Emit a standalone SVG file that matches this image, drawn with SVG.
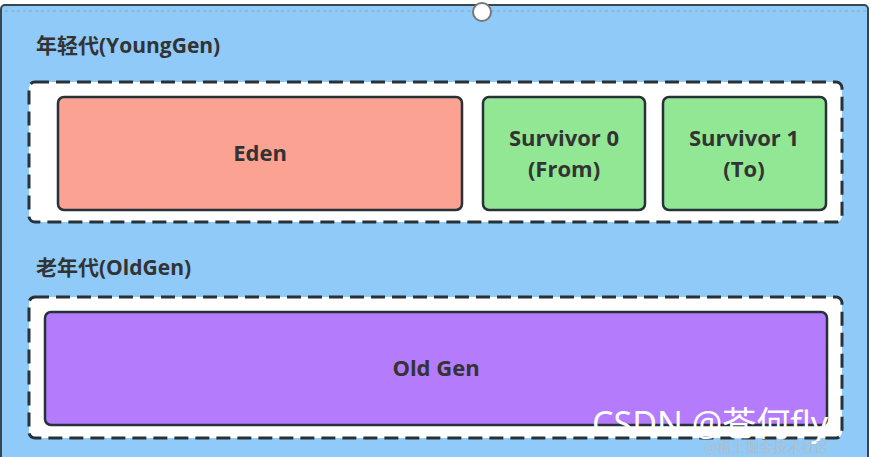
<svg xmlns="http://www.w3.org/2000/svg" width="871" height="457" viewBox="0 0 871 457">
<style>
.t{font-family:"Open Sans","Noto Sans CJK SC",sans-serif;font-weight:bold;fill:#333;font-size:21px}
.c{text-anchor:middle;font-size:22px}
.dash{fill:#fff;stroke:#263238;stroke-width:3;stroke-dasharray:14 7}
.box{stroke:#263238;stroke-width:2.5}
</style>
<g id="background">
<rect x="1" y="5" width="867" height="460" rx="4" fill="#90caf9" stroke="#37474f" stroke-width="2"/>
<line x1="5" y1="11" x2="866" y2="11" stroke="#8aa" stroke-width="1" stroke-dasharray="3 3"/>
<circle cx="482" cy="12" r="9" fill="#fff" stroke="#777" stroke-width="2"/>
</g>
<g id="young">
<text class="t" x="36" y="53">年轻代(YoungGen)</text>
<rect class="dash" x="29" y="82" width="813" height="140" rx="6"/>
</g>
<g id="eden"><rect class="box" x="58" y="97" width="404" height="113" rx="6" fill="#fca292"/><text class="t c" x="260" y="161">Eden</text></g>
<g id="s0"><rect class="box" x="483" y="97" width="162" height="113" rx="6" fill="#92e795"/><text class="t c" x="564" y="146">Survivor 0</text><text class="t c" x="564" y="177">(From)</text></g>
<g id="s1"><rect class="box" x="663" y="97" width="163" height="113" rx="6" fill="#92e795"/><text class="t c" x="744" y="146">Survivor 1</text><text class="t c" x="744" y="177">(To)</text></g>
<g id="old">
<text class="t" x="36" y="275">老年代(OldGen)</text>
<rect class="dash" x="29" y="297" width="813" height="141" rx="6"/>
</g>
<g id="oldgen"><rect class="box" x="45" y="312" width="782" height="113" rx="6" fill="#b57bfd"/><text class="t c" x="436" y="376">Old Gen</text></g>
<g id="connectors"></g>
<text x="592" y="436" font-family="Noto Sans,Noto Sans CJK SC,sans-serif" font-size="34" fill="#fff">CSDN @苍何fly</text>
<text x="704" y="452" font-family="Noto Sans CJK SC,sans-serif" font-size="14" fill="#b0bec5" opacity="0.9">@稀土掘金技术社区</text>
</svg>
